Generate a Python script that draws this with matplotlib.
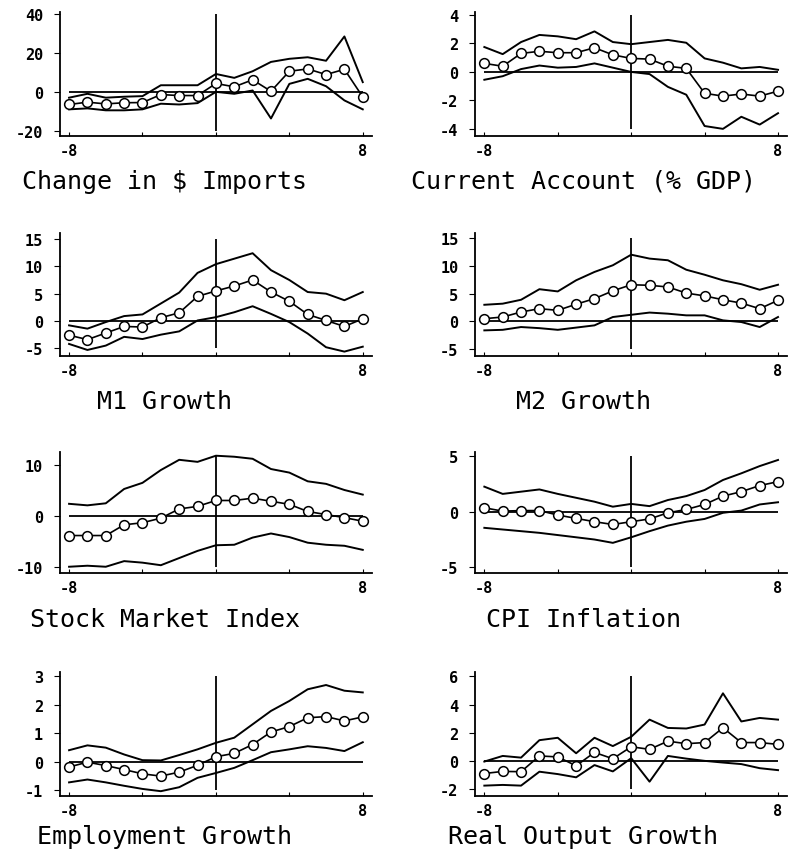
import numpy as np
import matplotlib
matplotlib.use("Agg")
import matplotlib.pyplot as plt

# quarters relative to event
quarters = [-8, -7, -6, -5, -4, -3, -2, -1, 0, 1, 2, 3, 4, 5, 6, 7, 8]

imports_mean = [-6.5, -5.3, -6.2, -5.6, -5.5, -1.4, -1.9, -1.9, 4.3, 2.6, 6.2, 0.3, 10.6, 11.8, 8.9, 11.6, -2.6]
imports_upper = [-3.0, -1.0, -3.0, -2.5, -2.2, 3.4, 3.4, 3.4, 9.2, 7.2, 10.6, 15.4, 17.0, 17.8, 16.0, 28.5, 5.0]
imports_lower = [-9.0, -8.5, -9.5, -9.5, -9.0, -6.1, -6.5, -5.8, 0.0, -1.0, 0.7, -13.7, 4.1, 6.7, 2.9, -4.4, -9.0]

curacc_mean = [0.6, 0.4, 1.3, 1.45, 1.35, 1.35, 1.7, 1.2, 0.95, 0.9, 0.4, 0.25, -1.5, -1.7, -1.55, -1.7, -1.35]
curacc_upper = [1.75, 1.25, 2.1, 2.6, 2.5, 2.3, 2.85, 2.1, 1.95, 2.1, 2.25, 2.05, 0.95, 0.65, 0.25, 0.35, 0.15]
curacc_lower = [-0.55, -0.3, 0.2, 0.45, 0.3, 0.35, 0.6, 0.3, 0.0, -0.15, -1.05, -1.6, -3.8, -4.0, -3.15, -3.7, -2.9]

m1_mean = [-2.6, -3.4, -2.2, -1.0, -1.1, 0.6, 1.5, 4.5, 5.5, 6.4, 7.5, 5.3, 3.6, 1.2, 0.1, -1.0, 0.4]
m1_upper = [-0.8, -1.4, -0.2, 0.9, 1.2, 3.2, 5.2, 8.8, 10.4, 11.4, 12.4, 9.3, 7.5, 5.3, 5.0, 3.8, 5.3]
m1_lower = [-4.2, -5.3, -4.5, -2.9, -3.3, -2.5, -1.9, 0.1, 0.7, 1.6, 2.7, 1.3, -0.2, -2.3, -4.8, -5.6, -4.7]

m2_mean = [0.5, 0.8, 1.7, 2.3, 2.0, 3.1, 4.1, 5.5, 6.6, 6.5, 6.2, 5.1, 4.6, 3.9, 3.3, 2.3, 3.8]
m2_upper = [3.0, 3.2, 3.9, 5.8, 5.4, 7.4, 8.9, 10.1, 12.0, 11.3, 11.0, 9.3, 8.4, 7.4, 6.7, 5.7, 6.6]
m2_lower = [-1.6, -1.5, -1.0, -1.2, -1.5, -1.1, -0.7, 0.8, 1.2, 1.6, 1.4, 1.1, 1.1, 0.2, -0.1, -1.0, 0.8]

stock_mean = [-3.8, -3.8, -3.8, -1.7, -1.3, -0.4, 1.4, 1.9, 3.05, 3.05, 3.5, 2.9, 2.3, 0.9, 0.3, -0.3, -1.0]
stock_upper = [2.4, 2.1, 2.5, 5.3, 6.5, 9.0, 11.0, 10.6, 11.8, 11.6, 11.2, 9.2, 8.5, 6.8, 6.3, 5.1, 4.2]
stock_lower = [-9.9, -9.7, -9.9, -8.8, -9.1, -9.6, -8.2, -6.8, -5.7, -5.6, -4.2, -3.4, -4.1, -5.2, -5.6, -5.8, -6.6]

cpi_mean = [0.35, 0.05, 0.1, 0.1, -0.3, -0.6, -0.9, -1.15, -0.9, -0.65, -0.1, 0.2, 0.65, 1.4, 1.8, 2.35, 2.7]
cpi_upper = [2.25, 1.6, 1.8, 2.0, 1.6, 1.25, 0.9, 0.45, 0.7, 0.5, 1.05, 1.4, 1.95, 2.85, 3.45, 4.1, 4.65]
cpi_lower = [-1.45, -1.6, -1.75, -1.9, -2.1, -2.3, -2.5, -2.8, -2.3, -1.75, -1.25, -0.9, -0.65, -0.1, 0.1, 0.65, 0.85]

emp_mean = [-0.18, -0.01, -0.13, -0.27, -0.42, -0.5, -0.36, -0.12, 0.18, 0.3, 0.61, 1.05, 1.24, 1.55, 1.59, 1.44, 1.58]
emp_upper = [0.41, 0.58, 0.5, 0.26, 0.06, 0.05, 0.24, 0.44, 0.67, 0.85, 1.32, 1.79, 2.14, 2.55, 2.7, 2.5, 2.44]
emp_lower = [-0.72, -0.62, -0.72, -0.84, -0.95, -1.03, -0.89, -0.56, -0.39, -0.21, 0.06, 0.34, 0.44, 0.55, 0.49, 0.38, 0.69]

output_mean = [-0.9, -0.75, -0.77, 0.35, 0.28, -0.35, 0.6, 0.15, 1.0, 0.82, 1.4, 1.22, 1.3, 2.35, 1.3, 1.3, 1.17]
output_upper = [-0.05, 0.35, 0.23, 1.47, 1.64, 0.54, 1.64, 1.05, 1.71, 2.93, 2.34, 2.3, 2.58, 4.8, 2.8, 3.05, 2.93]
output_lower = [-1.76, -1.71, -1.76, -0.77, -0.94, -1.17, -0.3, -0.75, 0.19, -1.48, 0.35, 0.16, 0.0, -0.12, -0.23, -0.52, -0.66]

titles = ["Change in $ Imports", "Current Account (% GDP)",
          "M1 Growth", "M2 Growth",
          "Stock Market Index", "CPI Inflation",
          "Employment Growth", "Real Output Growth"]
yticks = [[-20, 0, 20, 40], [-4, -2, 0, 2, 4],
          [-5, 0, 5, 10, 15], [-5, 0, 5, 10, 15],
          [-10, 0, 10], [-5, 0, 5],
          [-1, 0, 1, 2, 3], [-2, 0, 2, 4, 6]]
ylims = [(-22.7, 41), (-4.5, 4.2), (-6.4, 16.1), (-6.2, 15.9),
         (-11.1, 12.6), (-5.5, 5.4), (-1.2, 3.15), (-2.5, 6.3)]
vtops = [40, 4, 15, 15, 11.9, 5, 3, 6]

series = [(imports_mean, imports_upper, imports_lower),
          (curacc_mean, curacc_upper, curacc_lower),
          (m1_mean, m1_upper, m1_lower),
          (m2_mean, m2_upper, m2_lower),
          (stock_mean, stock_upper, stock_lower),
          (cpi_mean, cpi_upper, cpi_lower),
          (emp_mean, emp_upper, emp_lower),
          (output_mean, output_upper, output_lower)]

fig = plt.figure(figsize=(7.88, 8.54), dpi=100)

lefts = [0.076, 0.603]
bottoms = [0.8396, 0.582, 0.328, 0.0667]
heights = [0.145, 0.144, 0.142, 0.145]
title_x = [0.209, 0.740]
title_y = [0.787, 0.529, 0.274, 0.0195]

for i in range(8):
    row, col = i // 2, i % 2
    ax = fig.add_axes([lefts[col], bottoms[row], 0.396, heights[row]])
    mean, upper, lower = series[i]
    x = np.array(quarters)

    ax.hlines(0, x[0], x[-1], color='black', lw=1.3)
    ax.vlines(0, yticks[i][0], vtops[i], color='black', lw=1.3)
    ax.plot(x, upper, color='black', lw=1.4)
    ax.plot(x, lower, color='black', lw=1.4)
    ax.plot(x, mean, color='black', lw=1.2, marker='o', ms=7,
            mfc='white', mec='black', mew=1.1)

    ax.set_xlim(-8.5, 8.5)
    ax.set_ylim(*ylims[i])
    ax.set_xticks([-8, -4, 0, 4, 8])
    ax.set_xticklabels(['-8', '', '', '', '8'])
    ax.set_yticks(yticks[i])
    ax.set_yticklabels([str(t) for t in yticks[i]])
    ax.spines['top'].set_visible(False)
    ax.spines['right'].set_visible(False)
    ax.spines['left'].set_linewidth(1.3)
    ax.spines['bottom'].set_linewidth(1.3)
    ax.tick_params(axis='x', direction='in', length=3, pad=5)
    ax.tick_params(axis='y', direction='out', length=4, pad=8)
    for lab in ax.get_xticklabels() + ax.get_yticklabels():
        lab.set_family('DejaVu Sans Mono')
        lab.set_fontweight('bold')
        lab.set_fontsize(11)

    fig.text(title_x[col], title_y[row], titles[i], ha='center', va='center',
             family='DejaVu Sans Mono', fontsize=18)

fig.savefig('out.png', dpi=100)
